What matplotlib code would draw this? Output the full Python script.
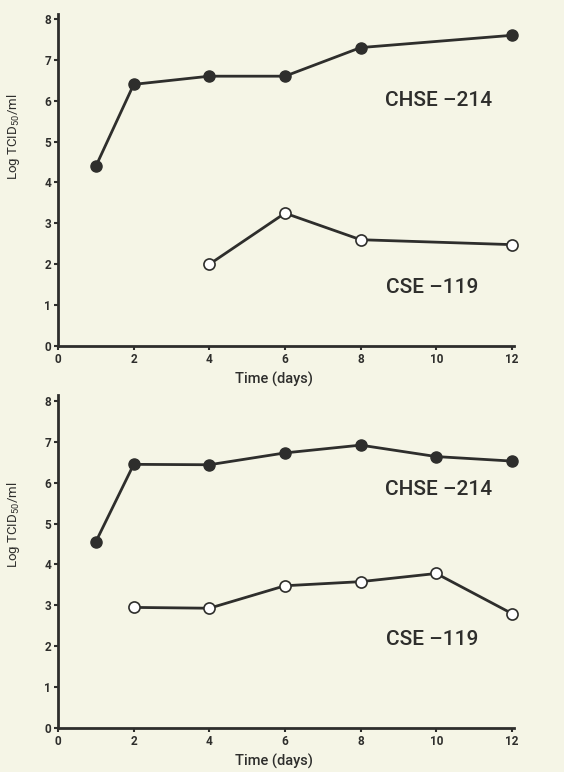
import matplotlib.pyplot as plt
import numpy as np

# panel 1
days_chse_a = [1, 2, 4, 6, 8, 12]
chse_a = [4.4, 6.4, 6.6, 6.6, 7.3, 7.6]
days_cse_a = [4, 6, 8, 12]
cse_a = [2.0, 3.25, 2.6, 2.48]

# panel 2
days_chse_b = [1, 2, 4, 6, 8, 10, 12]
chse_b = [4.56, 6.45, 6.44, 6.73, 6.92, 6.64, 6.53]
days_cse_b = [2, 4, 6, 8, 10, 12]
cse_b = [2.95, 2.93, 3.48, 3.58, 3.78, 2.8]

xticks = [0, 2, 4, 6, 8, 10, 12]
yticks = [0, 1, 2, 3, 4, 5, 6, 7, 8]

bg = '#f5f5e6'
ink = '#2e2e2c'

plt.rcParams['font.family'] = ['Roboto', 'DejaVu Sans']
plt.rcParams['mathtext.fontset'] = 'custom'
plt.rcParams['mathtext.rm'] = 'Roboto'

fig = plt.figure(figsize=(5.64, 7.72), dpi=100, facecolor=bg)
ax1 = fig.add_axes([0.103, 0.5518, 0.808, 0.430])
ax2 = fig.add_axes([0.103, 0.057, 0.808, 0.431])

panels = [
    (ax1, days_chse_a, chse_a, days_cse_a, cse_a, (10.05, 6.0), (9.9, 1.44), 8.12, 0.63),
    (ax2, days_chse_b, chse_b, days_cse_b, cse_b, (10.07, 5.83), (9.9, 2.16), 8.14, 0.61),
]

for ax, xc, yc, xs, ys, pos1, pos2, ytop, ylab_y in panels:
    ax.set_facecolor(bg)
    ax.plot(xc, yc, '-o', color=ink, lw=2, ms=8, mfc=ink, mec=ink, clip_on=False, zorder=3)
    ax.plot(xs, ys, '-o', color=ink, lw=2, ms=8, mfc='white', mec=ink, mew=1.2, clip_on=False, zorder=3)
    ax.set_xlim(0, 12.05)
    ax.set_ylim(0, ytop)
    ax.set_xticks(xticks)
    ax.set_yticks(yticks)
    for s in ['top', 'right']:
        ax.spines[s].set_visible(False)
    for s in ['left', 'bottom']:
        ax.spines[s].set_linewidth(2)
        ax.spines[s].set_color(ink)
    ax.tick_params(axis='both', color=ink, labelcolor=ink, labelsize=8.5, width=1.5, length=3, pad=2)
    for lab in ax.get_xticklabels() + ax.get_yticklabels():
        lab.set_fontweight('bold')
    ax.set_xlabel('Time (days)', fontsize=10.5, color=ink, fontweight='medium')
    ax.xaxis.set_label_coords(0.473, -0.078)
    ax.set_ylabel('Log TCID$_{50}$/ml', fontsize=9.5, color=ink)
    ax.yaxis.set_label_coords(-0.079, ylab_y)
    ax.text(pos1[0], pos1[1], 'CHSE \u2013214', fontsize=15, color=ink, ha='center', va='center', fontweight='medium')
    ax.text(pos2[0], pos2[1], 'CSE \u2013119', fontsize=15, color=ink, ha='center', va='center', fontweight='medium')

fig.savefig('out.png', dpi=100, facecolor=bg)
